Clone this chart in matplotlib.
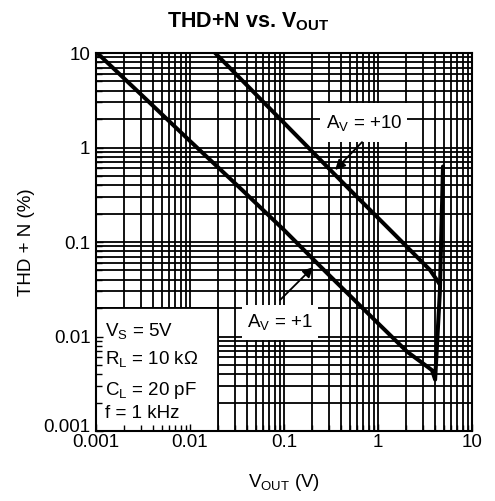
import matplotlib
matplotlib.use("Agg")
import matplotlib.pyplot as plt
from matplotlib.patches import Rectangle
from matplotlib.transforms import ScaledTranslation

plt.rcParams["font.family"] = ["Liberation Sans", "DejaVu Sans"]
plt.rcParams["mathtext.fontset"] = "custom"
plt.rcParams["mathtext.rm"] = "Liberation Sans"
plt.rcParams["mathtext.it"] = "Liberation Sans:italic"
plt.rcParams["mathtext.bf"] = "Liberation Sans:bold"

# THD+N curves, read per gain setting
vout_av1 = [0.00103, 0.0032, 0.01, 0.0316, 0.1, 0.286, 1.0, 2.04, 3.0, 3.75, 4.05, 4.55, 4.91]
thd_av1 = [10, 3.44, 1.17, 0.40, 0.134, 0.047, 0.0138, 0.0069, 0.0052, 0.0044, 0.0035, 0.03, 0.63]

vout_av10 = [0.0185, 0.1, 0.48, 1.0, 2.04, 3.57, 4.35, 4.5]
thd_av10 = [10, 1.82, 0.373, 0.18, 0.0885, 0.0506, 0.038, 0.036]

x_ticks = [0.001, 0.01, 0.1, 1, 10]
x_labels = ["0.001", "0.01", "0.1", "1", "10"]
y_ticks = [0.001, 0.01, 0.1, 1, 10]
y_labels = ["0.001", "0.01", "0.1", "1", "10"]

conditions = [r"$\mathregular{V_S}$ = 5V",
              r"$\mathregular{R_L}$ = 10 kΩ",
              r"$\mathregular{C_L}$ = 20 pF",
              "f = 1 kHz"]

FS = 13.5

fig = plt.figure(figsize=(4.95, 5.01), dpi=100)
ax = fig.add_axes([0.194, 0.1397, 0.7596, 0.7545])
ax.set_xscale("log")
ax.set_yscale("log")
ax.set_xlim(0.001, 10)
ax.set_ylim(0.001, 10)

# heavy log grid, drawn by hand so the white label boxes can sit on top of it
for d in range(-3, 1):
    for m in range(1, 10):
        v = m * 10.0 ** d
        ax.axvline(v, color="black", lw=1.3, zorder=1)
        ax.axhline(v, color="black", lw=1.3, zorder=1)

# white boxes that blank the grid behind the labels
ax.add_patch(Rectangle((0.001, 0.001), 0.019, 0.019, facecolor="white",
                       edgecolor="black", lw=1.3, zorder=1.5))
ax.add_patch(Rectangle((0.2415, 1.14), 2.04 - 0.2415, 2.96 - 1.14,
                       facecolor="white", edgecolor="none", zorder=1.5))
ax.add_patch(Rectangle((0.0357, 0.0092), 0.23 - 0.0357, 0.0216 - 0.0092,
                       facecolor="white", edgecolor="none", zorder=1.5))

ax.plot(vout_av1, thd_av1, color="black", lw=2.9, zorder=3,
        solid_joinstyle="round", solid_capstyle="round")
ax.plot(vout_av10, thd_av10, color="black", lw=2.9, zorder=3,
        solid_joinstyle="round", solid_capstyle="round")

arrow = dict(arrowstyle="-|>", color="black", lw=1.3, mutation_scale=15,
             shrinkA=0, shrinkB=0)
ax.annotate("", xy=(0.349, 0.578), xytext=(0.676, 1.14), arrowprops=arrow, zorder=4)
ax.annotate("", xy=(0.204, 0.0543), xytext=(0.0906, 0.0243), arrowprops=arrow, zorder=4)
ax.text(0.71, 1.82, r"$\mathregular{A_V}$ = +10", fontsize=FS,
        ha="center", va="center", zorder=5)
ax.text(0.0906, 0.0142, r"$\mathregular{A_V}$ = +1", fontsize=FS,
        ha="center", va="center", zorder=5)

for y, s in zip([0.251, 0.177, 0.095, 0.034], conditions):
    ax.text(0.024, y, s, transform=ax.transAxes, fontsize=FS,
            ha="left", va="baseline", zorder=5)

ax.set_xticks(x_ticks)
ax.set_xticklabels(x_labels)
ax.set_yticks(y_ticks)
ax.set_yticklabels(y_labels)
ax.tick_params(which="both", direction="in", color="black", width=1.0,
               labelsize=FS, zorder=2.5)
ax.tick_params(axis="x", which="major", length=5, pad=2)
ax.tick_params(axis="y", which="major", length=5, pad=4)
ax.tick_params(which="minor", length=4)
ax.set_axisbelow(False)
for sp in ax.spines.values():
    sp.set_linewidth(1.5)
    sp.set_zorder(6)

# lift the bottom y label a touch so it clears the x label below it
lab = ax.get_yticklabels()[0]
lab.set_transform(lab.get_transform() + ScaledTranslation(0, 4 / 72, fig.dpi_scale_trans))

ax.set_xlabel(r"$\mathregular{V_{OUT}}$ (V)", fontsize=FS, labelpad=15)
ax.set_ylabel("THD + N (%)", fontsize=FS, labelpad=6)
fig.text(0.501, 0.957, r"THD+N vs. $\mathbf{V_{OUT}}$", fontsize=15.5,
         fontweight="bold", ha="center", va="center")

fig.savefig("out.png", dpi=100)
